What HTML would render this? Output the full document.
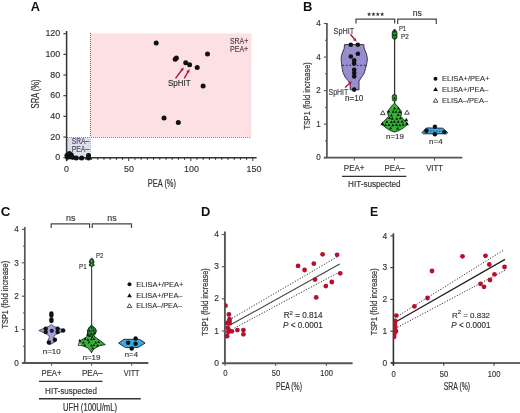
<!DOCTYPE html><html><head><meta charset="utf-8"><style>html,body{margin:0;padding:0;background:#fff;}svg{display:block;will-change:transform;filter:blur(0.3px);}</style></head><body>
<svg width="520" height="413" viewBox="0 0 520 413" font-family='"Liberation Sans", sans-serif'>
<rect width="520" height="413" fill="#fff"/>
<text x="30.80" y="10.90" font-size="12.8" fill="#111" font-weight="bold">A</text>
<rect x="90.4" y="33.4" width="161.1" height="104.1" fill="#fde0e3"/>
<rect x="67.2" y="137.5" width="23.2" height="20.2" fill="#dcdeec"/>
<line x1="90.50" y1="33.00" x2="90.50" y2="137.00" stroke="#9a5868" stroke-width="1.0" stroke-linecap="butt" stroke-dasharray="1,1"/>
<line x1="90.50" y1="139.00" x2="90.50" y2="157.00" stroke="#d9a3b3" stroke-width="1.0" stroke-linecap="butt" stroke-dasharray="1,1"/>
<line x1="67.00" y1="137.50" x2="251.00" y2="137.50" stroke="#dc6580" stroke-width="1.0" stroke-linecap="butt" stroke-dasharray="1,1"/>
<line x1="66.60" y1="31.00" x2="66.60" y2="161.20" stroke="#333" stroke-width="1.5" stroke-linecap="butt"/>
<line x1="63.40" y1="157.70" x2="66.60" y2="157.70" stroke="#333" stroke-width="1.1" stroke-linecap="butt"/>
<text x="60.20" y="160.30" font-size="8.9" fill="#333" stroke="#333" stroke-width="0.15" text-anchor="end">0</text>
<line x1="63.40" y1="137.03" x2="66.60" y2="137.03" stroke="#333" stroke-width="1.1" stroke-linecap="butt"/>
<text x="60.20" y="139.63" font-size="8.9" fill="#333" stroke="#333" stroke-width="0.15" text-anchor="end">20</text>
<line x1="63.40" y1="116.36" x2="66.60" y2="116.36" stroke="#333" stroke-width="1.1" stroke-linecap="butt"/>
<text x="60.20" y="118.96" font-size="8.9" fill="#333" stroke="#333" stroke-width="0.15" text-anchor="end">40</text>
<line x1="63.40" y1="95.69" x2="66.60" y2="95.69" stroke="#333" stroke-width="1.1" stroke-linecap="butt"/>
<text x="60.20" y="98.29" font-size="8.9" fill="#333" stroke="#333" stroke-width="0.15" text-anchor="end">60</text>
<line x1="63.40" y1="75.02" x2="66.60" y2="75.02" stroke="#333" stroke-width="1.1" stroke-linecap="butt"/>
<text x="60.20" y="77.62" font-size="8.9" fill="#333" stroke="#333" stroke-width="0.15" text-anchor="end">80</text>
<line x1="63.40" y1="54.35" x2="66.60" y2="54.35" stroke="#333" stroke-width="1.1" stroke-linecap="butt"/>
<text x="60.20" y="56.95" font-size="8.9" fill="#333" stroke="#333" stroke-width="0.15" text-anchor="end">100</text>
<line x1="63.40" y1="33.68" x2="66.60" y2="33.68" stroke="#333" stroke-width="1.1" stroke-linecap="butt"/>
<text x="60.20" y="36.28" font-size="8.9" fill="#333" stroke="#333" stroke-width="0.15" text-anchor="end">120</text>
<line x1="66.60" y1="157.80" x2="256.60" y2="157.80" stroke="#333" stroke-width="1.5" stroke-linecap="butt"/>
<line x1="66.75" y1="157.80" x2="66.75" y2="161.00" stroke="#333" stroke-width="1.0" stroke-linecap="butt"/>
<text x="66.50" y="172.30" font-size="8.9" fill="#333" stroke="#333" stroke-width="0.15" text-anchor="middle">0</text>
<line x1="72.95" y1="157.80" x2="72.95" y2="159.90" stroke="#333" stroke-width="1.0" stroke-linecap="butt"/>
<line x1="79.16" y1="157.80" x2="79.16" y2="159.90" stroke="#333" stroke-width="1.0" stroke-linecap="butt"/>
<line x1="85.36" y1="157.80" x2="85.36" y2="159.90" stroke="#333" stroke-width="1.0" stroke-linecap="butt"/>
<line x1="91.56" y1="157.80" x2="91.56" y2="159.90" stroke="#333" stroke-width="1.0" stroke-linecap="butt"/>
<line x1="97.76" y1="157.80" x2="97.76" y2="159.90" stroke="#333" stroke-width="1.0" stroke-linecap="butt"/>
<line x1="103.97" y1="157.80" x2="103.97" y2="159.90" stroke="#333" stroke-width="1.0" stroke-linecap="butt"/>
<line x1="110.17" y1="157.80" x2="110.17" y2="159.90" stroke="#333" stroke-width="1.0" stroke-linecap="butt"/>
<line x1="116.37" y1="157.80" x2="116.37" y2="159.90" stroke="#333" stroke-width="1.0" stroke-linecap="butt"/>
<line x1="122.57" y1="157.80" x2="122.57" y2="159.90" stroke="#333" stroke-width="1.0" stroke-linecap="butt"/>
<line x1="128.78" y1="157.80" x2="128.78" y2="161.00" stroke="#333" stroke-width="1.0" stroke-linecap="butt"/>
<text x="129.00" y="172.30" font-size="8.9" fill="#333" stroke="#333" stroke-width="0.15" text-anchor="middle">50</text>
<line x1="134.98" y1="157.80" x2="134.98" y2="159.90" stroke="#333" stroke-width="1.0" stroke-linecap="butt"/>
<line x1="141.18" y1="157.80" x2="141.18" y2="159.90" stroke="#333" stroke-width="1.0" stroke-linecap="butt"/>
<line x1="147.38" y1="157.80" x2="147.38" y2="159.90" stroke="#333" stroke-width="1.0" stroke-linecap="butt"/>
<line x1="153.58" y1="157.80" x2="153.58" y2="159.90" stroke="#333" stroke-width="1.0" stroke-linecap="butt"/>
<line x1="159.79" y1="157.80" x2="159.79" y2="159.90" stroke="#333" stroke-width="1.0" stroke-linecap="butt"/>
<line x1="165.99" y1="157.80" x2="165.99" y2="159.90" stroke="#333" stroke-width="1.0" stroke-linecap="butt"/>
<line x1="172.19" y1="157.80" x2="172.19" y2="159.90" stroke="#333" stroke-width="1.0" stroke-linecap="butt"/>
<line x1="178.39" y1="157.80" x2="178.39" y2="159.90" stroke="#333" stroke-width="1.0" stroke-linecap="butt"/>
<line x1="184.60" y1="157.80" x2="184.60" y2="159.90" stroke="#333" stroke-width="1.0" stroke-linecap="butt"/>
<line x1="190.80" y1="157.80" x2="190.80" y2="161.00" stroke="#333" stroke-width="1.0" stroke-linecap="butt"/>
<text x="191.50" y="172.30" font-size="8.9" fill="#333" stroke="#333" stroke-width="0.15" text-anchor="middle">100</text>
<line x1="197.00" y1="157.80" x2="197.00" y2="159.90" stroke="#333" stroke-width="1.0" stroke-linecap="butt"/>
<line x1="203.20" y1="157.80" x2="203.20" y2="159.90" stroke="#333" stroke-width="1.0" stroke-linecap="butt"/>
<line x1="209.41" y1="157.80" x2="209.41" y2="159.90" stroke="#333" stroke-width="1.0" stroke-linecap="butt"/>
<line x1="215.61" y1="157.80" x2="215.61" y2="159.90" stroke="#333" stroke-width="1.0" stroke-linecap="butt"/>
<line x1="221.81" y1="157.80" x2="221.81" y2="159.90" stroke="#333" stroke-width="1.0" stroke-linecap="butt"/>
<line x1="228.01" y1="157.80" x2="228.01" y2="159.90" stroke="#333" stroke-width="1.0" stroke-linecap="butt"/>
<line x1="234.22" y1="157.80" x2="234.22" y2="159.90" stroke="#333" stroke-width="1.0" stroke-linecap="butt"/>
<line x1="240.42" y1="157.80" x2="240.42" y2="159.90" stroke="#333" stroke-width="1.0" stroke-linecap="butt"/>
<line x1="246.62" y1="157.80" x2="246.62" y2="159.90" stroke="#333" stroke-width="1.0" stroke-linecap="butt"/>
<line x1="252.82" y1="157.80" x2="252.82" y2="161.00" stroke="#333" stroke-width="1.0" stroke-linecap="butt"/>
<text x="254.00" y="172.30" font-size="8.9" fill="#333" stroke="#333" stroke-width="0.15" text-anchor="middle">150</text>
<text x="39.20" y="108.40" font-size="10.0" fill="#333" stroke="#333" stroke-width="0.2" textLength="29.00" lengthAdjust="spacingAndGlyphs" transform="rotate(-90 39.20 108.40)">SRA (%)</text>
<text x="147.80" y="186.50" font-size="10.0" fill="#333" stroke="#333" stroke-width="0.2" textLength="28.20" lengthAdjust="spacingAndGlyphs">PEA (%)</text>
<text x="230.00" y="43.80" font-size="8.2" fill="#4a3d47" stroke="#4a3d47" stroke-width="0.15" textLength="18.20" lengthAdjust="spacingAndGlyphs">SRA+</text>
<text x="230.00" y="52.10" font-size="8.2" fill="#4a3d47" stroke="#4a3d47" stroke-width="0.15" textLength="18.20" lengthAdjust="spacingAndGlyphs">PEA+</text>
<text x="71.70" y="143.90" font-size="8.2" fill="#4b4b66" stroke="#4b4b66" stroke-width="0.15" textLength="17.60" lengthAdjust="spacingAndGlyphs">SRA–</text>
<text x="71.70" y="152.20" font-size="8.2" fill="#4b4b66" stroke="#4b4b66" stroke-width="0.15" textLength="17.60" lengthAdjust="spacingAndGlyphs">PEA–</text>
<circle cx="156.20" cy="43.10" r="2.5" fill="#111"/>
<circle cx="175.20" cy="59.20" r="2.5" fill="#111"/>
<circle cx="176.40" cy="58.00" r="2.5" fill="#111"/>
<circle cx="185.70" cy="62.70" r="2.5" fill="#111"/>
<circle cx="189.60" cy="64.70" r="2.5" fill="#111"/>
<circle cx="197.20" cy="67.50" r="2.5" fill="#111"/>
<circle cx="207.50" cy="54.10" r="2.5" fill="#111"/>
<circle cx="203.10" cy="86.10" r="2.5" fill="#111"/>
<circle cx="164.05" cy="117.90" r="2.5" fill="#111"/>
<circle cx="178.30" cy="122.60" r="2.5" fill="#111"/>
<circle cx="67.50" cy="157.30" r="2.5" fill="#111"/>
<circle cx="66.90" cy="155.50" r="2.5" fill="#111"/>
<circle cx="69.40" cy="153.60" r="2.5" fill="#111"/>
<circle cx="71.20" cy="154.80" r="2.5" fill="#111"/>
<circle cx="70.00" cy="156.80" r="2.5" fill="#111"/>
<circle cx="72.50" cy="157.30" r="2.5" fill="#111"/>
<circle cx="76.20" cy="157.90" r="2.5" fill="#111"/>
<circle cx="81.70" cy="157.90" r="2.5" fill="#111"/>
<circle cx="88.50" cy="155.50" r="2.5" fill="#111"/>
<circle cx="88.50" cy="158.00" r="2.5" fill="#111"/>
<line x1="175.50" y1="78.30" x2="181.62" y2="70.26" stroke="#a8183c" stroke-width="1.4" stroke-linecap="butt"/>
<polygon points="183.80,67.40 182.93,71.26 180.31,69.26" fill="#a8183c"/>
<line x1="184.30" y1="78.30" x2="187.80" y2="72.22" stroke="#a8183c" stroke-width="1.4" stroke-linecap="butt"/>
<polygon points="189.60,69.10 189.23,73.04 186.37,71.40" fill="#a8183c"/>
<text x="167.90" y="86.40" font-size="8.9" fill="#333" stroke="#333" stroke-width="0.15" textLength="22.90" lengthAdjust="spacingAndGlyphs">SpHIT</text>
<text x="302.90" y="11.00" font-size="13" fill="#111" font-weight="bold">B</text>
<line x1="326.90" y1="23.00" x2="326.90" y2="157.70" stroke="#555" stroke-width="1.7" stroke-linecap="butt"/>
<line x1="323.90" y1="157.70" x2="326.90" y2="157.70" stroke="#555" stroke-width="1.1" stroke-linecap="butt"/>
<text x="320.70" y="160.40" font-size="8.4" fill="#333" stroke="#333" stroke-width="0.15" text-anchor="end" textLength="4.50" lengthAdjust="spacingAndGlyphs">0</text>
<line x1="325.00" y1="140.92" x2="326.90" y2="140.92" stroke="#555" stroke-width="1.0" stroke-linecap="butt"/>
<line x1="323.90" y1="124.15" x2="326.90" y2="124.15" stroke="#555" stroke-width="1.1" stroke-linecap="butt"/>
<text x="320.70" y="126.85" font-size="8.4" fill="#333" stroke="#333" stroke-width="0.15" text-anchor="end" textLength="4.50" lengthAdjust="spacingAndGlyphs">1</text>
<line x1="325.00" y1="107.38" x2="326.90" y2="107.38" stroke="#555" stroke-width="1.0" stroke-linecap="butt"/>
<line x1="323.90" y1="90.60" x2="326.90" y2="90.60" stroke="#555" stroke-width="1.1" stroke-linecap="butt"/>
<text x="320.70" y="93.30" font-size="8.4" fill="#333" stroke="#333" stroke-width="0.15" text-anchor="end" textLength="4.50" lengthAdjust="spacingAndGlyphs">2</text>
<line x1="325.00" y1="73.82" x2="326.90" y2="73.82" stroke="#555" stroke-width="1.0" stroke-linecap="butt"/>
<line x1="323.90" y1="57.05" x2="326.90" y2="57.05" stroke="#555" stroke-width="1.1" stroke-linecap="butt"/>
<text x="320.70" y="59.75" font-size="8.4" fill="#333" stroke="#333" stroke-width="0.15" text-anchor="end" textLength="4.50" lengthAdjust="spacingAndGlyphs">4</text>
<line x1="325.00" y1="40.28" x2="326.90" y2="40.28" stroke="#555" stroke-width="1.0" stroke-linecap="butt"/>
<line x1="323.90" y1="23.50" x2="326.90" y2="23.50" stroke="#555" stroke-width="1.1" stroke-linecap="butt"/>
<text x="320.70" y="26.20" font-size="8.4" fill="#333" stroke="#333" stroke-width="0.15" text-anchor="end" textLength="4.50" lengthAdjust="spacingAndGlyphs">4</text>
<line x1="323.90" y1="157.70" x2="462.30" y2="157.70" stroke="#555" stroke-width="1.8" stroke-linecap="butt"/>
<line x1="354.30" y1="157.70" x2="354.30" y2="160.60" stroke="#555" stroke-width="1.0" stroke-linecap="butt"/>
<line x1="394.50" y1="157.70" x2="394.50" y2="160.60" stroke="#555" stroke-width="1.0" stroke-linecap="butt"/>
<line x1="434.50" y1="157.70" x2="434.50" y2="160.60" stroke="#555" stroke-width="1.0" stroke-linecap="butt"/>
<text x="310.30" y="129.60" font-size="9.4" fill="#333" stroke="#333" stroke-width="0.2" textLength="67.30" lengthAdjust="spacingAndGlyphs" transform="rotate(-90 310.30 129.60)">TSP1 (fold increase)</text>
<text x="343.80" y="171.20" font-size="8.4" fill="#333" stroke="#333" stroke-width="0.15" textLength="20.70" lengthAdjust="spacingAndGlyphs">PEA+</text>
<text x="384.50" y="171.20" font-size="8.4" fill="#333" stroke="#333" stroke-width="0.15" textLength="20.00" lengthAdjust="spacingAndGlyphs">PEA–</text>
<text x="426.20" y="171.20" font-size="8.4" fill="#333" stroke="#333" stroke-width="0.15" textLength="16.80" lengthAdjust="spacingAndGlyphs">VITT</text>
<line x1="342.00" y1="176.40" x2="406.30" y2="176.40" stroke="#333" stroke-width="1.2" stroke-linecap="butt"/>
<text x="348.00" y="186.70" font-size="8.4" fill="#333" stroke="#333" stroke-width="0.15" textLength="52.50" lengthAdjust="spacingAndGlyphs">HIT-suspected</text>
<path d="M356.0,23.4 V19.2 H394.7 V23.4 M397.7,24.0 V19.2 H436.3 V24.0" fill="none" stroke="#444" stroke-width="1.2"/>
<polygon points="369.10,12.10 369.68,13.50 371.19,13.62 370.04,14.61 370.39,16.08 369.10,15.29 367.81,16.08 368.16,14.61 367.01,13.62 368.52,13.50" fill="#333"/>
<polygon points="373.45,12.10 374.03,13.50 375.54,13.62 374.39,14.61 374.74,16.08 373.45,15.29 372.16,16.08 372.51,14.61 371.36,13.62 372.87,13.50" fill="#333"/>
<polygon points="377.80,12.10 378.38,13.50 379.89,13.62 378.74,14.61 379.09,16.08 377.80,15.29 376.51,16.08 376.86,14.61 375.71,13.62 377.22,13.50" fill="#333"/>
<polygon points="382.15,12.10 382.73,13.50 384.24,13.62 383.09,14.61 383.44,16.08 382.15,15.29 380.86,16.08 381.21,14.61 380.06,13.62 381.57,13.50" fill="#333"/>
<text x="417.30" y="15.90" font-size="8.7" fill="#333" stroke="#333" stroke-width="0.15" text-anchor="middle" textLength="9.10" lengthAdjust="spacingAndGlyphs">ns</text>
<polygon points="344.50,44.60 344.20,48.50 342.30,52.90 341.10,57.70 341.40,62.60 342.00,67.40 343.00,72.30 345.10,77.10 348.10,80.70 350.00,83.00 350.30,89.80 359.00,89.80 359.00,81.00 361.60,77.10 364.00,73.50 365.50,68.60 366.70,63.80 367.40,59.00 366.50,54.10 364.00,48.00 363.80,44.60" fill="#988dcd" stroke="#3a3550" stroke-width="1.0" stroke-linejoin="round"/>
<line x1="342.20" y1="65.30" x2="366.00" y2="65.30" stroke="#2a2540" stroke-width="1.0" stroke-linecap="butt" stroke-dasharray="1.8,1.8"/>
<circle cx="350.80" cy="44.80" r="2.3" fill="#111"/>
<circle cx="357.80" cy="44.80" r="2.3" fill="#111"/>
<circle cx="357.90" cy="53.80" r="2.3" fill="#111"/>
<circle cx="350.80" cy="56.50" r="2.3" fill="#111"/>
<circle cx="354.20" cy="60.30" r="2.3" fill="#111"/>
<circle cx="354.10" cy="63.40" r="2.3" fill="#111"/>
<circle cx="354.20" cy="69.70" r="2.3" fill="#111"/>
<circle cx="354.20" cy="73.10" r="2.3" fill="#111"/>
<circle cx="354.20" cy="76.50" r="2.3" fill="#111"/>
<circle cx="354.20" cy="89.60" r="2.3" fill="#111"/>
<text x="333.60" y="33.80" font-size="8.2" fill="#3a3a3a" stroke="#3a3a3a" stroke-width="0.15" textLength="20.60" lengthAdjust="spacingAndGlyphs">SpHIT</text>
<line x1="350.40" y1="34.20" x2="354.32" y2="39.01" stroke="#a8183c" stroke-width="1.4" stroke-linecap="butt"/>
<polygon points="356.60,41.80 353.05,40.05 355.60,37.97" fill="#a8183c"/>
<text x="328.50" y="94.60" font-size="8.3" fill="#3a4444" stroke="#3a4444" stroke-width="0.15" textLength="19.80" lengthAdjust="spacingAndGlyphs">SpHIT</text>
<line x1="345.10" y1="87.60" x2="349.18" y2="83.77" stroke="#a8183c" stroke-width="1.4" stroke-linecap="butt"/>
<polygon points="351.80,81.30 350.31,84.97 348.05,82.56" fill="#a8183c"/>
<text x="345.10" y="100.90" font-size="8.4" fill="#333" stroke="#333" stroke-width="0.15" textLength="18.30" lengthAdjust="spacingAndGlyphs">n=10</text>
<line x1="394.60" y1="38.00" x2="394.60" y2="104.00" stroke="#333" stroke-width="1.3" stroke-linecap="butt"/>
<polygon points="394.60,29.00 396.90,31.80 396.90,38.00 394.60,39.60 392.30,38.00 392.30,31.80" fill="#2c8a30" stroke="#0d250d" stroke-width="0.9" stroke-linejoin="round"/>
<polygon points="394.60,29.86 393.30,32.26 395.90,32.26" fill="#0d250d"/>
<polygon points="393.60,34.00 392.60,36.00 394.60,36.00" fill="#0d250d"/>
<polygon points="395.60,34.00 394.60,36.00 396.60,36.00" fill="#0d250d"/>
<polygon points="394.60,36.92 393.60,38.72 395.60,38.72" fill="#0d250d"/>
<rect x="392.3" y="94.6" width="4.3" height="6.4" rx="1.6" fill="#2f8a35" stroke="#123312" stroke-width="0.8"/>
<polygon points="394.50,97.02 393.30,99.32 395.70,99.32" fill="#0c1a0c"/>
<polygon points="394.50,103.20 396.50,105.20 399.00,108.20 401.60,111.70 400.90,116.50 408.00,124.00 403.50,127.80 398.80,130.60 394.50,132.00 390.30,130.60 386.00,127.80 381.40,124.00 388.50,116.50 387.40,111.70 390.00,108.20 392.50,105.20" fill="#37b237" stroke="#0d250d" stroke-width="0.9" stroke-linejoin="round"/>
<polygon points="394.59,106.70 393.09,109.40 396.09,109.40" fill="#0c1a0c"/>
<polygon points="398.47,106.84 396.97,109.54 399.97,109.54" fill="#0c1a0c"/>
<polygon points="388.70,109.87 387.20,112.57 390.20,112.57" fill="#0c1a0c"/>
<polygon points="393.17,110.11 391.67,112.81 394.67,112.81" fill="#0c1a0c"/>
<polygon points="396.10,110.17 394.60,112.87 397.60,112.87" fill="#0c1a0c"/>
<polygon points="399.75,110.23 398.25,112.93 401.25,112.93" fill="#0c1a0c"/>
<polygon points="391.36,113.78 389.86,116.48 392.86,116.48" fill="#0c1a0c"/>
<polygon points="398.17,113.29 396.67,115.99 399.67,115.99" fill="#0c1a0c"/>
<polygon points="389.47,116.40 387.97,119.10 390.97,119.10" fill="#0c1a0c"/>
<polygon points="392.24,116.93 390.74,119.63 393.74,119.63" fill="#0c1a0c"/>
<polygon points="396.68,117.14 395.18,119.84 398.18,119.84" fill="#0c1a0c"/>
<polygon points="400.40,116.61 398.90,119.31 401.90,119.31" fill="#0c1a0c"/>
<polygon points="386.84,120.35 385.34,123.05 388.34,123.05" fill="#0c1a0c"/>
<polygon points="391.36,120.38 389.86,123.08 392.86,123.08" fill="#0c1a0c"/>
<polygon points="394.46,120.08 392.96,122.78 395.96,122.78" fill="#0c1a0c"/>
<polygon points="398.20,120.11 396.70,122.81 399.70,122.81" fill="#0c1a0c"/>
<polygon points="402.14,120.07 400.64,122.77 403.64,122.77" fill="#0c1a0c"/>
<polygon points="385.52,123.40 384.02,126.10 387.02,126.10" fill="#0c1a0c"/>
<polygon points="389.02,123.42 387.52,126.12 390.52,126.12" fill="#0c1a0c"/>
<polygon points="392.82,123.47 391.32,126.17 394.32,126.17" fill="#0c1a0c"/>
<polygon points="396.43,123.33 394.93,126.03 397.93,126.03" fill="#0c1a0c"/>
<polygon points="399.75,123.53 398.25,126.23 401.25,126.23" fill="#0c1a0c"/>
<polygon points="403.02,123.01 401.52,125.71 404.52,125.71" fill="#0c1a0c"/>
<polygon points="390.71,126.56 389.21,129.26 392.21,129.26" fill="#0c1a0c"/>
<polygon points="397.63,126.72 396.13,129.42 399.13,129.42" fill="#0c1a0c"/>
<polygon points="382.80,110.60 380.50,114.60 385.10,114.60" fill="#fff" stroke="#222" stroke-width="0.8" stroke-linejoin="round"/>
<polygon points="407.00,110.20 404.70,114.20 409.30,114.20" fill="#fff" stroke="#222" stroke-width="0.8" stroke-linejoin="round"/>
<polygon points="382.40,121.76 380.50,125.16 384.30,125.16" fill="#0c1a0c"/>
<polygon points="407.00,121.76 405.10,125.16 408.90,125.16" fill="#0c1a0c"/>
<polygon points="406.30,117.76 404.40,121.16 408.20,121.16" fill="#0c1a0c"/>
<text x="398.90" y="30.90" font-size="7.7" fill="#333" stroke="#333" stroke-width="0.15" textLength="7.30" lengthAdjust="spacingAndGlyphs">P1</text>
<text x="401.10" y="39.30" font-size="7.7" fill="#333" stroke="#333" stroke-width="0.15" textLength="7.70" lengthAdjust="spacingAndGlyphs">P2</text>
<text x="386.00" y="139.00" font-size="7.8" fill="#333" stroke="#333" stroke-width="0.15" textLength="18.00" lengthAdjust="spacingAndGlyphs">n=19</text>
<polygon points="421.90,132.60 426.50,127.90 442.80,128.20 447.70,132.70 446.50,133.80 423.50,133.80" fill="#3aa9de" stroke="#102040" stroke-width="0.9" stroke-linejoin="round"/>
<line x1="424.00" y1="131.20" x2="446.00" y2="131.20" stroke="#1a3550" stroke-width="0.8" stroke-linecap="butt" stroke-dasharray="1.5,1.5"/>
<circle cx="434.90" cy="126.80" r="2.2" fill="#111"/>
<circle cx="426.50" cy="130.80" r="2.2" fill="#111"/>
<circle cx="434.90" cy="134.20" r="2.2" fill="#111"/>
<circle cx="444.30" cy="132.10" r="2.2" fill="#111"/>
<text x="429.10" y="143.50" font-size="7.8" fill="#333" stroke="#333" stroke-width="0.15" textLength="13.50" lengthAdjust="spacingAndGlyphs">n=4</text>
<circle cx="435.50" cy="78.70" r="2.0" fill="#111"/>
<polygon points="435.60,87.10 433.20,91.10 438.00,91.10" fill="#111"/>
<polygon points="435.60,98.42 433.30,102.22 437.90,102.22" fill="#fff" stroke="#222" stroke-width="0.8" stroke-linejoin="round"/>
<text x="442.00" y="80.90" font-size="7.9" fill="#2e2e2e" stroke="#2e2e2e" stroke-width="0.1" textLength="47.60" lengthAdjust="spacingAndGlyphs">ELISA+/PEA+</text>
<text x="442.00" y="91.80" font-size="7.9" fill="#2e2e2e" stroke="#2e2e2e" stroke-width="0.1" textLength="46.50" lengthAdjust="spacingAndGlyphs">ELISA+/PEA–</text>
<text x="442.00" y="102.70" font-size="7.9" fill="#2e2e2e" stroke="#2e2e2e" stroke-width="0.1" textLength="46.00" lengthAdjust="spacingAndGlyphs">ELISA–/PEA–</text>
<text x="0.80" y="216.30" font-size="13.4" fill="#111" font-weight="bold">C</text>
<line x1="24.80" y1="227.00" x2="24.80" y2="362.80" stroke="#555" stroke-width="1.7" stroke-linecap="butt"/>
<line x1="21.80" y1="363.00" x2="24.80" y2="363.00" stroke="#555" stroke-width="1.1" stroke-linecap="butt"/>
<text x="18.80" y="365.70" font-size="8.6" fill="#333" stroke="#333" stroke-width="0.15" text-anchor="end" textLength="4.50" lengthAdjust="spacingAndGlyphs">0</text>
<line x1="23.00" y1="346.30" x2="24.80" y2="346.30" stroke="#555" stroke-width="1.0" stroke-linecap="butt"/>
<line x1="21.80" y1="329.60" x2="24.80" y2="329.60" stroke="#555" stroke-width="1.1" stroke-linecap="butt"/>
<text x="18.80" y="332.30" font-size="8.6" fill="#333" stroke="#333" stroke-width="0.15" text-anchor="end" textLength="4.50" lengthAdjust="spacingAndGlyphs">1</text>
<line x1="23.00" y1="312.90" x2="24.80" y2="312.90" stroke="#555" stroke-width="1.0" stroke-linecap="butt"/>
<line x1="21.80" y1="296.20" x2="24.80" y2="296.20" stroke="#555" stroke-width="1.1" stroke-linecap="butt"/>
<text x="18.80" y="298.90" font-size="8.6" fill="#333" stroke="#333" stroke-width="0.15" text-anchor="end" textLength="4.50" lengthAdjust="spacingAndGlyphs">2</text>
<line x1="23.00" y1="279.50" x2="24.80" y2="279.50" stroke="#555" stroke-width="1.0" stroke-linecap="butt"/>
<line x1="21.80" y1="262.80" x2="24.80" y2="262.80" stroke="#555" stroke-width="1.1" stroke-linecap="butt"/>
<text x="18.80" y="265.50" font-size="8.6" fill="#333" stroke="#333" stroke-width="0.15" text-anchor="end" textLength="4.50" lengthAdjust="spacingAndGlyphs">3</text>
<line x1="23.00" y1="246.10" x2="24.80" y2="246.10" stroke="#555" stroke-width="1.0" stroke-linecap="butt"/>
<line x1="21.80" y1="229.40" x2="24.80" y2="229.40" stroke="#555" stroke-width="1.1" stroke-linecap="butt"/>
<text x="18.80" y="232.10" font-size="8.6" fill="#333" stroke="#333" stroke-width="0.15" text-anchor="end" textLength="4.50" lengthAdjust="spacingAndGlyphs">4</text>
<line x1="22.20" y1="363.00" x2="148.40" y2="363.00" stroke="#555" stroke-width="1.8" stroke-linecap="butt"/>
<line x1="51.60" y1="362.80" x2="51.60" y2="365.80" stroke="#555" stroke-width="1.0" stroke-linecap="butt"/>
<line x1="91.60" y1="362.80" x2="91.60" y2="365.80" stroke="#555" stroke-width="1.0" stroke-linecap="butt"/>
<line x1="131.70" y1="362.80" x2="131.70" y2="365.80" stroke="#555" stroke-width="1.0" stroke-linecap="butt"/>
<text x="7.90" y="328.60" font-size="9.4" fill="#333" stroke="#333" stroke-width="0.2" textLength="67.80" lengthAdjust="spacingAndGlyphs" transform="rotate(-90 7.90 328.60)">TSP1 (fold increase)</text>
<text x="41.50" y="376.30" font-size="8.4" fill="#333" stroke="#333" stroke-width="0.15" textLength="19.90" lengthAdjust="spacingAndGlyphs">PEA+</text>
<text x="82.00" y="376.30" font-size="8.4" fill="#333" stroke="#333" stroke-width="0.15" textLength="20.50" lengthAdjust="spacingAndGlyphs">PEA–</text>
<text x="123.80" y="376.30" font-size="8.4" fill="#333" stroke="#333" stroke-width="0.15" textLength="15.70" lengthAdjust="spacingAndGlyphs">VITT</text>
<line x1="39.00" y1="381.40" x2="102.50" y2="381.40" stroke="#333" stroke-width="1.2" stroke-linecap="butt"/>
<text x="45.10" y="393.60" font-size="8.4" fill="#333" stroke="#333" stroke-width="0.15" textLength="51.90" lengthAdjust="spacingAndGlyphs">HIT-suspected</text>
<line x1="39.00" y1="398.80" x2="140.80" y2="398.80" stroke="#333" stroke-width="1.4" stroke-linecap="butt"/>
<text x="63.00" y="410.60" font-size="10.0" fill="#333" stroke="#333" stroke-width="0.2" textLength="54.00" lengthAdjust="spacingAndGlyphs">UFH (100U/mL)</text>
<path d="M51.2,228.0 V223.8 H89.6 V228.0 M92.3,228.0 V223.8 H131.5 V228.0" fill="none" stroke="#444" stroke-width="1.2"/>
<text x="70.80" y="221.00" font-size="8.7" fill="#333" stroke="#333" stroke-width="0.15" text-anchor="middle" textLength="9.40" lengthAdjust="spacingAndGlyphs">ns</text>
<text x="111.90" y="221.00" font-size="8.7" fill="#333" stroke="#333" stroke-width="0.15" text-anchor="middle" textLength="9.40" lengthAdjust="spacingAndGlyphs">ns</text>
<polygon points="51.40,324.20 54.00,326.50 57.50,327.80 62.00,329.30 65.40,330.60 62.00,331.80 58.00,333.30 54.50,335.50 53.50,337.50 56.00,339.00 55.00,342.00 50.00,344.50 47.00,343.00 48.50,339.00 49.50,337.00 48.50,335.50 45.00,333.00 41.00,331.50 38.80,330.60 41.00,329.50 45.50,327.80 49.00,326.30" fill="#a5a2d2" stroke="#3a3a55" stroke-width="0.8" stroke-linejoin="round"/>
<circle cx="51.40" cy="313.50" r="2.2" fill="#111"/>
<circle cx="51.40" cy="315.50" r="2.2" fill="#111"/>
<circle cx="51.40" cy="319.50" r="2.2" fill="#111"/>
<circle cx="51.40" cy="320.90" r="2.2" fill="#111"/>
<circle cx="45.70" cy="328.70" r="2.2" fill="#111"/>
<circle cx="45.70" cy="332.10" r="2.2" fill="#111"/>
<circle cx="57.60" cy="328.70" r="2.2" fill="#111"/>
<circle cx="57.60" cy="332.10" r="2.2" fill="#111"/>
<circle cx="63.10" cy="330.50" r="2.2" fill="#111"/>
<circle cx="54.90" cy="339.70" r="2.2" fill="#111"/>
<circle cx="48.90" cy="342.50" r="2.2" fill="#111"/>
<circle cx="51.80" cy="330.80" r="2.1" fill="#15155a"/>
<text x="42.70" y="353.80" font-size="7.8" fill="#333" stroke="#333" stroke-width="0.15" textLength="18.10" lengthAdjust="spacingAndGlyphs">n=10</text>
<line x1="91.60" y1="265.00" x2="91.60" y2="326.00" stroke="#444" stroke-width="1.2" stroke-linecap="butt"/>
<polygon points="91.70,257.90 93.40,259.80 94.20,262.00 93.40,263.40 94.30,265.40 91.70,266.60 89.10,265.40 90.00,263.40 89.20,262.00 90.00,259.80" fill="#1f5f25" stroke="#0d250d" stroke-width="0.8" stroke-linejoin="round"/>
<polygon points="91.70,259.98 90.90,261.68 92.50,261.68" fill="#a8cfa8"/>
<polygon points="91.70,263.64 90.90,265.24 92.50,265.24" fill="#a8cfa8"/>
<polygon points="91.50,325.50 94.50,327.80 96.20,330.90 95.60,333.20 93.80,335.80 97.00,338.50 100.70,341.00 105.30,344.70 100.00,345.50 96.00,347.50 93.00,350.00 91.50,352.80 90.00,350.00 87.00,347.50 83.00,345.80 78.10,345.20 80.00,341.00 84.00,338.50 87.50,336.20 86.80,335.20 87.80,333.00 87.60,330.90 88.70,328.10" fill="#37b237" stroke="#0d250d" stroke-width="0.9" stroke-linejoin="round"/>
<polygon points="89.08,328.40 87.68,330.90 90.48,330.90" fill="#0c1a0c"/>
<polygon points="91.10,331.40 89.70,333.90 92.50,333.90" fill="#0c1a0c"/>
<polygon points="93.94,331.65 92.54,334.15 95.34,334.15" fill="#0c1a0c"/>
<polygon points="89.53,334.41 88.13,336.91 90.93,336.91" fill="#0c1a0c"/>
<polygon points="92.23,335.16 90.83,337.66 93.63,337.66" fill="#0c1a0c"/>
<polygon points="85.25,337.47 83.85,339.97 86.65,339.97" fill="#0c1a0c"/>
<polygon points="88.01,338.13 86.61,340.63 89.41,340.63" fill="#0c1a0c"/>
<polygon points="91.42,337.84 90.02,340.34 92.82,340.34" fill="#0c1a0c"/>
<polygon points="93.92,337.54 92.52,340.04 95.32,340.04" fill="#0c1a0c"/>
<polygon points="83.34,341.06 81.94,343.56 84.74,343.56" fill="#0c1a0c"/>
<polygon points="88.98,340.79 87.58,343.29 90.38,343.29" fill="#0c1a0c"/>
<polygon points="95.78,341.03 94.38,343.53 97.18,343.53" fill="#0c1a0c"/>
<polygon points="98.68,340.52 97.28,343.02 100.08,343.02" fill="#0c1a0c"/>
<polygon points="84.78,343.63 83.38,346.13 86.18,346.13" fill="#0c1a0c"/>
<polygon points="91.46,343.90 90.06,346.40 92.86,346.40" fill="#0c1a0c"/>
<polygon points="93.94,343.47 92.54,345.97 95.34,345.97" fill="#0c1a0c"/>
<polygon points="97.48,344.09 96.08,346.59 98.88,346.59" fill="#0c1a0c"/>
<polygon points="92.70,346.86 91.30,349.36 94.10,349.36" fill="#0c1a0c"/>
<polygon points="79.80,338.82 78.20,341.62 81.40,341.62" fill="#0c1a0c"/>
<polygon points="91.40,325.10 93.50,326.80 95.50,328.80 96.20,330.60 95.60,332.80 94.00,335.20 88.80,335.20 87.20,335.50 87.60,333.00 87.70,330.60 88.60,328.20 90.00,326.50" fill="#25802b" stroke="#0d250d" stroke-width="0.8" stroke-linejoin="round"/>
<polygon points="91.40,326.34 90.25,328.44 92.55,328.44" fill="#0c1a0c"/>
<polygon points="89.60,329.34 88.45,331.44 90.75,331.44" fill="#0c1a0c"/>
<polygon points="93.30,329.34 92.15,331.44 94.45,331.44" fill="#0c1a0c"/>
<polygon points="91.40,332.14 90.25,334.24 92.55,334.24" fill="#0c1a0c"/>
<polygon points="88.00,333.34 86.85,335.44 89.15,335.44" fill="#0c1a0c"/>
<polygon points="94.60,331.94 93.45,334.04 95.75,334.04" fill="#0c1a0c"/>
<polygon points="90.60,328.12 89.90,329.42 91.30,329.42" fill="#7fbf80"/>
<polygon points="92.40,331.42 91.70,332.72 93.10,332.72" fill="#7fbf80"/>
<polygon points="80.00,342.20 78.20,345.20 81.80,345.20" fill="#fff" stroke="#333" stroke-width="0.6" stroke-linejoin="round"/>
<text x="96.10" y="258.40" font-size="7.3" fill="#333" stroke="#333" stroke-width="0.15" textLength="7.30" lengthAdjust="spacingAndGlyphs">P2</text>
<text x="79.00" y="269.30" font-size="7.3" fill="#333" stroke="#333" stroke-width="0.15" textLength="7.60" lengthAdjust="spacingAndGlyphs">P1</text>
<text x="82.40" y="360.20" font-size="7.8" fill="#333" stroke="#333" stroke-width="0.15" textLength="18.10" lengthAdjust="spacingAndGlyphs">n=19</text>
<polygon points="118.60,343.10 123.80,339.30 139.50,339.30 145.10,343.10 137.90,347.60 125.50,347.60" fill="#3aa9de" stroke="#102040" stroke-width="0.9" stroke-linejoin="round"/>
<circle cx="135.60" cy="338.50" r="2.2" fill="#111"/>
<circle cx="128.10" cy="342.80" r="2.2" fill="#111"/>
<circle cx="135.60" cy="343.80" r="2.2" fill="#111"/>
<circle cx="131.70" cy="348.50" r="2.2" fill="#111"/>
<text x="124.80" y="357.20" font-size="7.8" fill="#333" stroke="#333" stroke-width="0.15" textLength="13.20" lengthAdjust="spacingAndGlyphs">n=4</text>
<circle cx="129.50" cy="284.30" r="2.0" fill="#111"/>
<polygon points="129.50,293.20 127.10,297.20 131.90,297.20" fill="#111"/>
<polygon points="129.50,303.72 127.20,307.52 131.80,307.52" fill="#fff" stroke="#222" stroke-width="0.8" stroke-linejoin="round"/>
<text x="136.20" y="286.80" font-size="7.9" fill="#2e2e2e" stroke="#2e2e2e" stroke-width="0.1" textLength="47.20" lengthAdjust="spacingAndGlyphs">ELISA+/PEA+</text>
<text x="136.20" y="297.60" font-size="7.9" fill="#2e2e2e" stroke="#2e2e2e" stroke-width="0.1" textLength="46.30" lengthAdjust="spacingAndGlyphs">ELISA+/PEA–</text>
<text x="136.20" y="307.60" font-size="7.9" fill="#2e2e2e" stroke="#2e2e2e" stroke-width="0.1" textLength="45.80" lengthAdjust="spacingAndGlyphs">ELISA–/PEA–</text>
<text x="200.90" y="216.00" font-size="12.9" fill="#111" font-weight="bold">D</text>
<line x1="224.90" y1="231.50" x2="224.90" y2="363.30" stroke="#555" stroke-width="1.9" stroke-linecap="butt"/>
<line x1="221.80" y1="363.20" x2="224.90" y2="363.20" stroke="#555" stroke-width="1.1" stroke-linecap="butt"/>
<text x="219.00" y="365.70" font-size="8.8" fill="#333" stroke="#333" stroke-width="0.15" text-anchor="end" textLength="4.70" lengthAdjust="spacingAndGlyphs">0</text>
<line x1="221.80" y1="331.03" x2="224.90" y2="331.03" stroke="#555" stroke-width="1.1" stroke-linecap="butt"/>
<text x="219.00" y="333.53" font-size="8.8" fill="#333" stroke="#333" stroke-width="0.15" text-anchor="end" textLength="4.70" lengthAdjust="spacingAndGlyphs">1</text>
<line x1="221.80" y1="298.86" x2="224.90" y2="298.86" stroke="#555" stroke-width="1.1" stroke-linecap="butt"/>
<text x="219.00" y="301.36" font-size="8.8" fill="#333" stroke="#333" stroke-width="0.15" text-anchor="end" textLength="4.70" lengthAdjust="spacingAndGlyphs">2</text>
<line x1="221.80" y1="266.69" x2="224.90" y2="266.69" stroke="#555" stroke-width="1.1" stroke-linecap="butt"/>
<text x="219.00" y="269.19" font-size="8.8" fill="#333" stroke="#333" stroke-width="0.15" text-anchor="end" textLength="4.70" lengthAdjust="spacingAndGlyphs">3</text>
<line x1="221.80" y1="234.52" x2="224.90" y2="234.52" stroke="#555" stroke-width="1.1" stroke-linecap="butt"/>
<text x="219.00" y="237.02" font-size="8.8" fill="#333" stroke="#333" stroke-width="0.15" text-anchor="end" textLength="4.70" lengthAdjust="spacingAndGlyphs">4</text>
<line x1="222.40" y1="363.20" x2="352.60" y2="363.20" stroke="#555" stroke-width="1.9" stroke-linecap="butt"/>
<line x1="225.00" y1="363.20" x2="225.00" y2="366.00" stroke="#555" stroke-width="1.0" stroke-linecap="butt"/>
<text x="225.30" y="376.40" font-size="8.9" fill="#333" stroke="#333" stroke-width="0.15" text-anchor="middle" textLength="4.30" lengthAdjust="spacingAndGlyphs">0</text>
<line x1="275.68" y1="363.20" x2="275.68" y2="366.00" stroke="#555" stroke-width="1.0" stroke-linecap="butt"/>
<text x="275.98" y="376.40" font-size="8.9" fill="#333" stroke="#333" stroke-width="0.15" text-anchor="middle" textLength="8.50" lengthAdjust="spacingAndGlyphs">50</text>
<line x1="326.35" y1="363.20" x2="326.35" y2="366.00" stroke="#555" stroke-width="1.0" stroke-linecap="butt"/>
<text x="326.65" y="376.40" font-size="8.9" fill="#333" stroke="#333" stroke-width="0.15" text-anchor="middle" textLength="12.60" lengthAdjust="spacingAndGlyphs">100</text>
<text x="207.80" y="335.70" font-size="9.4" fill="#333" stroke="#333" stroke-width="0.2" textLength="67.50" lengthAdjust="spacingAndGlyphs" transform="rotate(-90 207.80 335.70)">TSP1 (fold increase)</text>
<text x="276.10" y="389.50" font-size="10.0" fill="#333" stroke="#333" stroke-width="0.2" textLength="25.90" lengthAdjust="spacingAndGlyphs">PEA (%)</text>
<line x1="229.60" y1="319.70" x2="336.60" y2="257.20" stroke="#222" stroke-width="1.0" stroke-linecap="butt" stroke-dasharray="1.1,1.7"/>
<line x1="234.40" y1="328.10" x2="340.20" y2="271.60" stroke="#222" stroke-width="1.0" stroke-linecap="butt" stroke-dasharray="1.1,1.7"/>
<line x1="231.00" y1="324.60" x2="339.70" y2="263.90" stroke="#444" stroke-width="1.1" stroke-linecap="butt"/>
<clipPath id="cD"><rect x="224.9" y="200" width="140" height="170"/></clipPath><g clip-path="url(#cD)">
<circle cx="322.60" cy="254.30" r="2.4" fill="#b5102e"/>
<circle cx="337.10" cy="254.80" r="2.4" fill="#b5102e"/>
<circle cx="298.10" cy="265.90" r="2.4" fill="#b5102e"/>
<circle cx="304.60" cy="270.00" r="2.4" fill="#b5102e"/>
<circle cx="313.80" cy="263.70" r="2.4" fill="#b5102e"/>
<circle cx="340.20" cy="273.30" r="2.4" fill="#b5102e"/>
<circle cx="315.00" cy="279.60" r="2.4" fill="#b5102e"/>
<circle cx="331.80" cy="282.00" r="2.4" fill="#b5102e"/>
<circle cx="325.80" cy="286.10" r="2.4" fill="#b5102e"/>
<circle cx="316.20" cy="297.40" r="2.4" fill="#b5102e"/>
<circle cx="225.50" cy="305.70" r="2.4" fill="#b5102e"/>
<circle cx="228.90" cy="314.40" r="2.4" fill="#b5102e"/>
<circle cx="229.50" cy="319.20" r="2.4" fill="#b5102e"/>
<circle cx="229.50" cy="321.60" r="2.4" fill="#b5102e"/>
<circle cx="227.10" cy="322.80" r="2.4" fill="#b5102e"/>
<circle cx="229.50" cy="323.40" r="2.4" fill="#b5102e"/>
<circle cx="227.70" cy="327.70" r="2.4" fill="#b5102e"/>
<circle cx="228.90" cy="330.10" r="2.4" fill="#b5102e"/>
<circle cx="231.90" cy="331.30" r="2.4" fill="#b5102e"/>
<circle cx="227.10" cy="336.20" r="2.4" fill="#b5102e"/>
<circle cx="237.40" cy="330.10" r="2.4" fill="#b5102e"/>
<circle cx="243.40" cy="330.10" r="2.4" fill="#b5102e"/>
<circle cx="243.40" cy="334.30" r="2.4" fill="#b5102e"/>
<circle cx="228.30" cy="331.90" r="2.4" fill="#b5102e"/>
</g>
<text x="283.70" y="317.80" font-size="8.15" fill="#333" stroke="#333" stroke-width="0.15">R<tspan font-size="6" dy="-3.1">2</tspan><tspan dy="3.1"> = 0.814</tspan></text>
<text x="283.00" y="327.60" font-size="8.2" fill="#333" stroke="#333" stroke-width="0.15" textLength="39.90" lengthAdjust="spacingAndGlyphs"><tspan font-style="italic">P</tspan> &lt; 0.0001</text>
<text x="370.10" y="215.80" font-size="12.2" fill="#111" font-weight="bold">E</text>
<line x1="393.40" y1="233.30" x2="393.40" y2="365.60" stroke="#333" stroke-width="1.6" stroke-linecap="butt"/>
<line x1="390.40" y1="362.90" x2="393.40" y2="362.90" stroke="#333" stroke-width="1.1" stroke-linecap="butt"/>
<text x="387.20" y="365.50" font-size="8.8" fill="#333" stroke="#333" stroke-width="0.15" text-anchor="end" textLength="4.70" lengthAdjust="spacingAndGlyphs">0</text>
<line x1="390.40" y1="331.15" x2="393.40" y2="331.15" stroke="#333" stroke-width="1.1" stroke-linecap="butt"/>
<text x="387.20" y="333.75" font-size="8.8" fill="#333" stroke="#333" stroke-width="0.15" text-anchor="end" textLength="4.70" lengthAdjust="spacingAndGlyphs">1</text>
<line x1="390.40" y1="299.40" x2="393.40" y2="299.40" stroke="#333" stroke-width="1.1" stroke-linecap="butt"/>
<text x="387.20" y="302.00" font-size="8.8" fill="#333" stroke="#333" stroke-width="0.15" text-anchor="end" textLength="4.70" lengthAdjust="spacingAndGlyphs">2</text>
<line x1="390.40" y1="267.65" x2="393.40" y2="267.65" stroke="#333" stroke-width="1.1" stroke-linecap="butt"/>
<text x="387.20" y="270.25" font-size="8.8" fill="#333" stroke="#333" stroke-width="0.15" text-anchor="end" textLength="4.70" lengthAdjust="spacingAndGlyphs">3</text>
<line x1="390.40" y1="235.90" x2="393.40" y2="235.90" stroke="#333" stroke-width="1.1" stroke-linecap="butt"/>
<text x="387.20" y="238.50" font-size="8.8" fill="#333" stroke="#333" stroke-width="0.15" text-anchor="end" textLength="4.70" lengthAdjust="spacingAndGlyphs">4</text>
<line x1="391.00" y1="363.00" x2="520.00" y2="363.00" stroke="#333" stroke-width="1.6" stroke-linecap="butt"/>
<line x1="393.60" y1="363.00" x2="393.60" y2="365.80" stroke="#333" stroke-width="1.0" stroke-linecap="butt"/>
<text x="393.70" y="376.70" font-size="8.9" fill="#333" stroke="#333" stroke-width="0.15" text-anchor="middle" textLength="4.30" lengthAdjust="spacingAndGlyphs">0</text>
<line x1="443.80" y1="363.00" x2="443.80" y2="365.80" stroke="#333" stroke-width="1.0" stroke-linecap="butt"/>
<text x="443.90" y="376.70" font-size="8.9" fill="#333" stroke="#333" stroke-width="0.15" text-anchor="middle" textLength="8.50" lengthAdjust="spacingAndGlyphs">50</text>
<line x1="494.00" y1="363.00" x2="494.00" y2="365.80" stroke="#333" stroke-width="1.0" stroke-linecap="butt"/>
<text x="494.10" y="376.70" font-size="8.9" fill="#333" stroke="#333" stroke-width="0.15" text-anchor="middle" textLength="12.60" lengthAdjust="spacingAndGlyphs">100</text>
<text x="376.80" y="335.30" font-size="9.4" fill="#333" stroke="#333" stroke-width="0.2" textLength="66.90" lengthAdjust="spacingAndGlyphs" transform="rotate(-90 376.80 335.30)">TSP1 (fold increase)</text>
<text x="443.80" y="389.80" font-size="10.0" fill="#333" stroke="#333" stroke-width="0.2" textLength="26.30" lengthAdjust="spacingAndGlyphs">SRA (%)</text>
<line x1="397.50" y1="316.30" x2="503.80" y2="250.00" stroke="#222" stroke-width="1.0" stroke-linecap="butt" stroke-dasharray="1.1,1.7"/>
<line x1="397.50" y1="327.30" x2="505.50" y2="270.00" stroke="#222" stroke-width="1.0" stroke-linecap="butt" stroke-dasharray="1.1,1.7"/>
<line x1="395.50" y1="322.00" x2="505.00" y2="259.30" stroke="#222" stroke-width="1.4" stroke-linecap="butt"/>
<clipPath id="cE"><rect x="393.4" y="200" width="140" height="170"/></clipPath><g clip-path="url(#cE)">
<circle cx="462.50" cy="256.30" r="2.4" fill="#b5102e"/>
<circle cx="485.50" cy="255.80" r="2.4" fill="#b5102e"/>
<circle cx="489.30" cy="264.50" r="2.4" fill="#b5102e"/>
<circle cx="504.50" cy="267.00" r="2.4" fill="#b5102e"/>
<circle cx="432.00" cy="271.00" r="2.4" fill="#b5102e"/>
<circle cx="494.50" cy="274.30" r="2.4" fill="#b5102e"/>
<circle cx="490.00" cy="280.00" r="2.4" fill="#b5102e"/>
<circle cx="480.50" cy="283.80" r="2.4" fill="#b5102e"/>
<circle cx="484.00" cy="286.80" r="2.4" fill="#b5102e"/>
<circle cx="427.50" cy="298.00" r="2.4" fill="#b5102e"/>
<circle cx="414.40" cy="306.30" r="2.4" fill="#b5102e"/>
<circle cx="396.30" cy="315.60" r="2.4" fill="#b5102e"/>
<circle cx="395.30" cy="321.00" r="2.4" fill="#b5102e"/>
<circle cx="394.70" cy="323.50" r="2.4" fill="#b5102e"/>
<circle cx="395.30" cy="330.10" r="2.4" fill="#b5102e"/>
<circle cx="395.90" cy="331.30" r="2.4" fill="#b5102e"/>
<circle cx="394.40" cy="333.70" r="2.4" fill="#b5102e"/>
<circle cx="394.10" cy="336.80" r="2.4" fill="#b5102e"/>
<circle cx="395.20" cy="326.60" r="2.4" fill="#b5102e"/>
</g>
<text x="452.00" y="317.50" font-size="7.95" fill="#333" stroke="#333" stroke-width="0.15">R<tspan font-size="6" dy="-3.1">2</tspan><tspan dy="3.1"> = 0.832</tspan></text>
<text x="451.30" y="327.50" font-size="8.2" fill="#333" stroke="#333" stroke-width="0.15" textLength="39.20" lengthAdjust="spacingAndGlyphs"><tspan font-style="italic">P</tspan> &lt; 0.0001</text>
</svg></body></html>
